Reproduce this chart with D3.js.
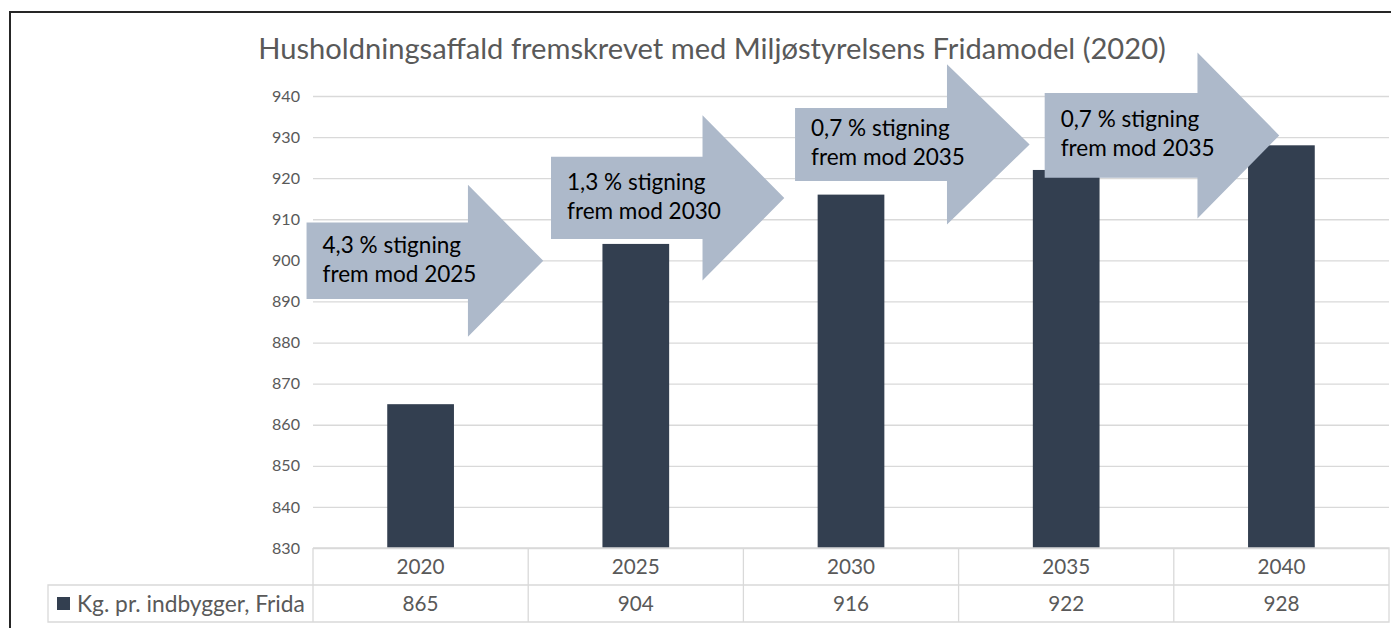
<!DOCTYPE html>
<html>
<head>
<meta charset="utf-8">
<script src="https://cdn.jsdelivr.net/npm/d3@7"></script>
<style>
  body{margin:0;background:#fff;}
  svg{display:block;font-family:Lato,"Open Sans",sans-serif;}
</style>
</head>
<body>
<div id="chart"></div>
<script>
"use strict"

// data
const years=["2020","2025","2030","2035","2040"];
const values=[865,904,916,922,928];
const yTicks=[830,840,850,860,870,880,890,900,910,920,930,940];
const seriesName="Kg. pr. indbygger, Frida";
const title="Husholdningsaffald fremskrevet med Miljøstyrelsens Fridamodel (2020)";

// arrow annotations, in data space (x = category index, y = value)
const arrowLines=[
  ["4,3 % stigning","frem mod 2025"],
  ["1,3 % stigning","frem mod 2030"],
  ["0,7 % stigning","frem mod 2035"],
  ["0,7 % stigning","frem mod 2035"]
];
const arrowX=[[-0.03,0.72,1.07],[1.106,1.81,2.19],[2.24,2.946,3.33],[3.40,4.11,4.49]];
const arrowY=[899.9,915.2,928.2,930.4];
const arrowBody=[9.3,10,8.9,10.3];
const arrowHead=[18.5,20.1,19.5,20.2];

const W=1391,H=628;
const plotL=313,plotR=1389,plotT=96,plotB=548,rowH=37;

const svg=d3.select("#chart").append("svg").attr("width",W).attr("height",H);

const x=d3.scaleBand().domain(years).range([plotL,plotR]).paddingInner(0.69).paddingOuter(0.345);
const xi=d3.scaleLinear().domain([0,years.length]).range([plotL,plotR]);
const y=d3.scaleLinear().domain([830,940]).range([plotB,plotT]);

// fit a font size so that a sample string gets the wanted width
function fitSize(sample,target){
  const t=svg.append("text").attr("font-size",100).text(sample);
  const w=t.node().getComputedTextLength();
  t.remove();
  return 100*target/w;
}
const titleSize=fitSize(title,908);
const tickSize=fitSize("830",28);
const cellSize=fitSize("2020",48);
const legendSize=fitSize(seriesName,228);
const noteSize=fitSize("frem mod 2025",154);

// frame
svg.append("path").attr("d",`M10,${H}V12H${W}`).attr("fill","none").attr("stroke","#262626").attr("stroke-width",2);

// title
svg.append("text").attr("x",712).attr("y",59).attr("text-anchor","middle")
  .attr("font-size",titleSize).attr("fill","#595959").text(title);

// gridlines + y axis
const yAxis=d3.axisLeft(y).tickValues(yTicks).tickSize(-(plotR-plotL)).tickPadding(13);
const gy=svg.append("g").attr("transform",`translate(${plotL},0)`).call(yAxis);
gy.select(".domain").remove();
gy.selectAll(".tick line").attr("stroke","#d9d9d9").attr("stroke-width",1.3);
gy.selectAll(".tick text").attr("fill","#595959").attr("font-size",tickSize).attr("font-family","Lato,'Open Sans',sans-serif");

// bars
svg.append("g").selectAll("rect").data(values).join("rect")
  .attr("x",(d,i)=>x(years[i]))
  .attr("y",d=>y(d))
  .attr("width",x.bandwidth())
  .attr("height",d=>y(830)-y(d))
  .attr("fill","#333f50");

// arrows
const arrows=svg.append("g");
arrowLines.forEach(function(lines,i){
  const x0=xi(arrowX[i][0]),x1=xi(arrowX[i][1]),x2=xi(arrowX[i][2]);
  const ym=y(arrowY[i]);
  const bh=y(830)-y(830+arrowBody[i]);
  const hh=y(830)-y(830+arrowHead[i]);
  const pts=[[x0,ym-bh],[x1,ym-bh],[x1,ym-hh],[x2,ym],[x1,ym+hh],[x1,ym+bh],[x0,ym+bh]];
  arrows.append("path").attr("d",d3.line()(pts)+"Z").attr("fill","#adb9ca");
  const t=arrows.append("text").attr("font-size",noteSize).attr("fill","#000");
  t.append("tspan").attr("x",x0+16).attr("y",ym-8).text(lines[0]);
  t.append("tspan").attr("x",x0+16).attr("y",ym+21).text(lines[1]);
});

// data table
const step=x.step();
const table=svg.append("g");
const grid="#d9d9d9";
table.append("path").attr("fill","none").attr("stroke",grid).attr("stroke-width",1.3)
  .attr("d",
    `M${plotL},${plotB}H${plotR}V${plotB+2*rowH}H48V${plotB+rowH}H${plotR}`+
    years.map((d,i)=>`M${plotL+i*step},${plotB}V${plotB+2*rowH}`).join("")+
    `M48,${plotB+rowH}V${plotB+2*rowH}`);

table.selectAll(".yr").data(years).join("text").attr("class","yr")
  .attr("x",(d,i)=>plotL+i*step+step/2).attr("y",plotB+rowH/2).attr("dy","0.36em")
  .attr("text-anchor","middle").attr("font-size",cellSize).attr("fill","#595959").text(d=>d);
table.selectAll(".val").data(values).join("text").attr("class","val")
  .attr("x",(d,i)=>plotL+i*step+step/2).attr("y",plotB+rowH*1.5).attr("dy","0.36em")
  .attr("text-anchor","middle").attr("font-size",cellSize).attr("fill","#595959").text(d=>d);

// legend key
table.append("rect").attr("x",57).attr("y",plotB+rowH*1.5-6.5).attr("width",13).attr("height",13).attr("fill","#333f50");
table.append("text").attr("x",77).attr("y",plotB+rowH*1.5).attr("dy","0.36em")
  .attr("font-size",legendSize).attr("fill","#595959").text(seriesName);
</script>
</body>
</html>
